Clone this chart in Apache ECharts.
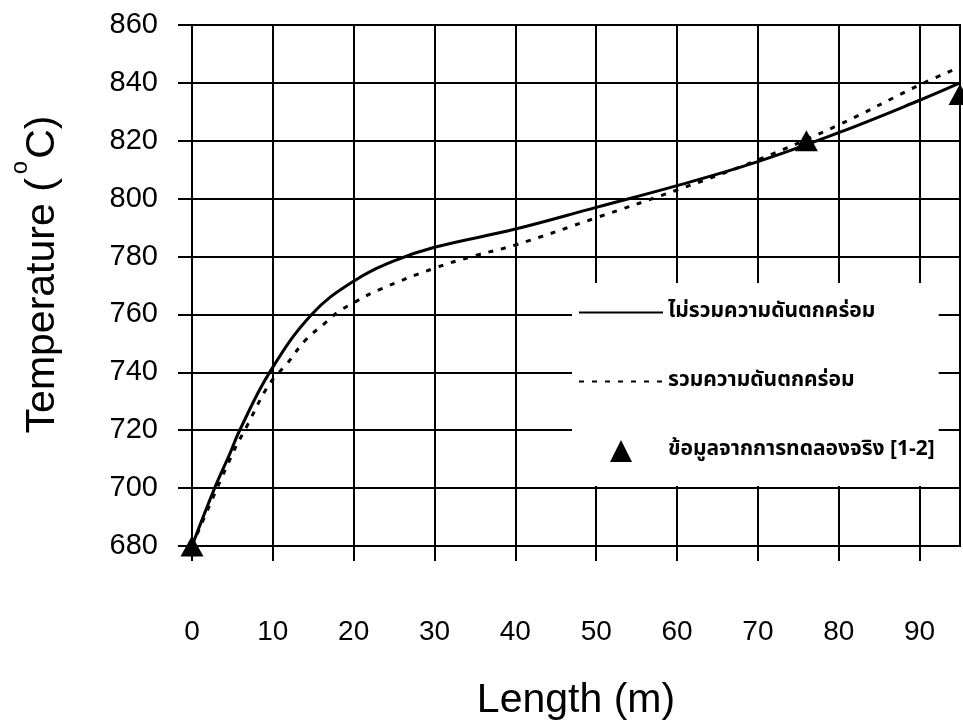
<!DOCTYPE html>
<html><head><meta charset="utf-8">
<script src="https://cdn.jsdelivr.net/npm/echarts@6/dist/echarts.min.js"></script>
<style>html,body{margin:0;padding:0;background:#fff}#c{width:963px;height:726px}</style>
</head><body><div id="c"></div>
<script>
const xTicks = [0, 10, 20, 30, 40, 50, 60, 70, 80, 90];
const yTicks = [680, 700, 720, 740, 760, 780, 800, 820, 840, 860];
const seriesNames = ['ไม่รวมความดันตกคร่อม', 'รวมความดันตกคร่อม', 'ข้อมูลจากการทดลองจริง [1-2]'];
const noDropX = [0, 2.8, 4.7, 5.9, 9.6, 14.8, 20, 25, 30, 40, 50, 60, 70, 80, 90, 95];
const noDropY = [680, 700, 712, 720, 740, 760, 771.5, 778.5, 783.2, 789.5, 797, 804.5, 812.8, 822.8, 834, 840];
const dropX = [0, 5.1, 6.9, 9, 10.2, 11.7, 14, 16.7, 18, 20.3, 23.2, 30, 35, 40, 50, 60, 70, 80, 90, 95];
const dropY = [680, 712.4, 722, 733.4, 738.3, 742.8, 751, 757.6, 760.7, 764.5, 768.6, 776, 780.3, 784, 793.4, 803, 813.4, 825.5, 839.3, 845.5];
const expX = [0, 76, 95];
const expY = [680, 820, 836];

const zip = (a, b) => a.map((v, i) => [v, b[i]]);
const chart = echarts.init(document.getElementById('c'));
const thai = '"Noto Sans Thai", "Noto Sans Thai UI", "Loma", "Garuda", "Liberation Sans", sans-serif';
chart.setOption({
  animation: false,
  backgroundColor: '#fff',
  grid: { left: 192, right: 3, top: 25, bottom: 179, show: true, borderColor: '#000', borderWidth: 2, backgroundColor: 'transparent' },
  xAxis: {
    type: 'value', min: 0, max: 95, interval: 10,
    name: 'Length (m)', nameLocation: 'middle', nameGap: 134,
    nameTextStyle: { fontFamily: 'Liberation Sans, Arial', fontSize: 41, color: '#000' },
    axisLine: { show: true, lineStyle: { color: '#000', width: 2 } },
    axisTick: { show: true, length: 15, lineStyle: { color: '#000', width: 2 }, customValues: xTicks },
    axisLabel: { margin: 72, fontFamily: 'Liberation Sans Narrow, Arial Narrow, sans-serif', fontSize: 28, color: '#000', customValues: xTicks },
    splitLine: { show: true, lineStyle: { color: '#000', width: 2 } }
  },
  yAxis: {
    type: 'value', min: 680, max: 860, interval: 20,
    name: '{a|Temperature (}{s|o}{a|C)}', nameLocation: 'middle', nameGap: 114,
    nameTextStyle: {
      padding: [0, 0, 0, 22],
      rich: {
        a: { fontFamily: 'Liberation Sans, Arial', fontSize: 41, color: '#000', lineHeight: 70 },
        s: { fontFamily: 'Liberation Sans, Arial', fontSize: 24, color: '#000', lineHeight: 24, verticalAlign: 'top', padding: [0, 2, 0, 4] }
      }
    },
    axisLine: { show: true, lineStyle: { color: '#000', width: 2 } },
    axisTick: { show: true, length: 14, lineStyle: { color: '#000', width: 2 } },
    axisLabel: { margin: 34, fontFamily: 'Liberation Sans, Arial', fontSize: 29, color: '#000' },
    splitLine: { show: true, lineStyle: { color: '#000', width: 2 } }
  },
  legend: {
    orient: 'vertical', left: 572, top: 283,
    backgroundColor: '#fff', padding: [19, 4, 24, 6],
    itemWidth: 84, itemHeight: 22, itemGap: 48,
    textStyle: { fontFamily: thai, fontSize: 21, fontWeight: 'bold', color: '#000' },
    data: [
      { name: seriesNames[0], itemStyle: { opacity: 0 } },
      { name: seriesNames[1], itemStyle: { opacity: 0 } },
      { name: seriesNames[2], icon: 'path://M10,0L20,20L0,20Z', itemStyle: { opacity: 1, color: '#000' } }
    ]
  },
  series: [
    { name: seriesNames[0], type: 'line', data: zip(noDropX, noDropY), smooth: 0.4, symbol: 'none',
      lineStyle: { color: '#000', width: 3 }, itemStyle: { color: '#000' }, z: 3 },
    { name: seriesNames[1], type: 'line', data: zip(dropX, dropY), smooth: 0.4, symbol: 'none',
      lineStyle: { color: '#000', width: 3, type: [5, 8] }, itemStyle: { color: '#000' }, z: 3 },
    { name: seriesNames[2], type: 'scatter', data: zip(expX, expY), symbol: 'triangle', symbolSize: [23, 21],
      itemStyle: { color: '#000', opacity: 1 }, z: 4, clip: false }
  ]
});
</script></body></html>
